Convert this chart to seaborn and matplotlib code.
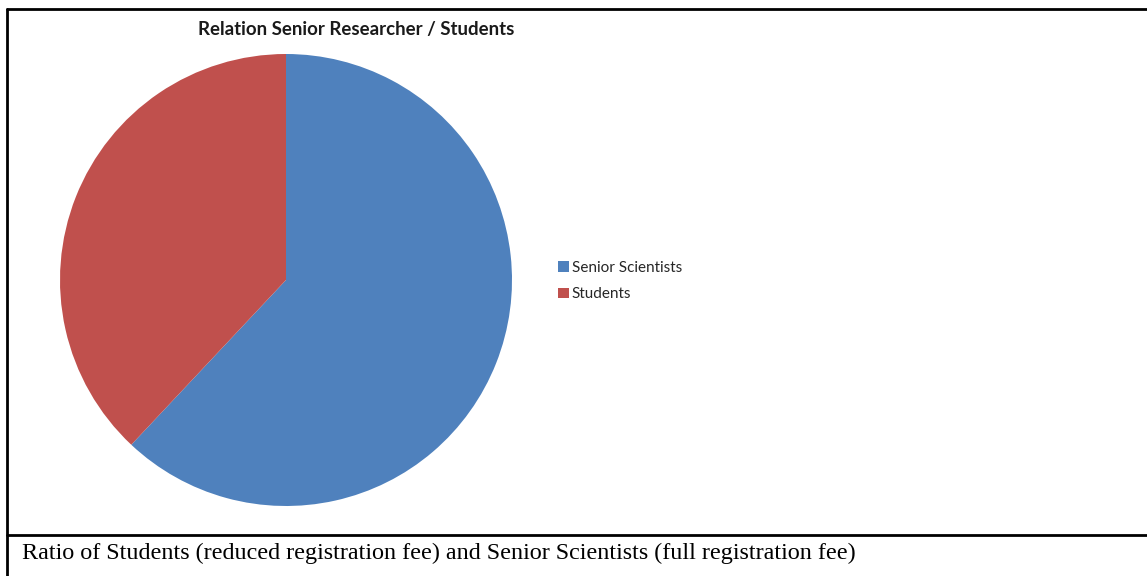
import numpy as np
import matplotlib
matplotlib.use("Agg")
import matplotlib.pyplot as plt
import seaborn as sns
from matplotlib.lines import Line2D
from matplotlib.patches import Patch

# --- Data ---
labels = ["Senior Scientists", "Students"]
shares = [62, 38]
colors = ["#4F81BD", "#C0504D"]
title = "Relation Senior Researcher / Students"
caption = "Ratio of Students (reduced registration fee) and Senior Scientists (full registration fee)"

sns.set_theme(style="white")
plt.rcParams["font.family"] = ["Lato", "DejaVu Sans"]

W, H = 1147, 576
fig = plt.figure(figsize=(W / 100, H / 100), dpi=100)

# --- Pie axes (center ~ (286, 280) px, radius ~ 226 px) ---
cx, cy, r = 286, 280, 226
ax = fig.add_axes([(cx - r) / W, (H - cy - r) / H, 2 * r / W, 2 * r / H])
wedges, _ = ax.pie(shares, colors=sns.color_palette(colors), startangle=90,
                   counterclock=False, radius=1.0,
                   wedgeprops=dict(linewidth=0, edgecolor="none"))
ax.set_xlim(-1, 1)
ax.set_ylim(-1, 1)
ax.set_aspect("equal")
ax.axis("off")

# --- Title ---
fig.text(356 / W, 1 - 29 / H, title, ha="center", va="center",
         fontsize=13.4, fontweight="bold", color="#1a1a1a")

# --- Legend ---
handles = [Patch(facecolor=c, edgecolor="none") for c in colors]
fig.legend(handles, labels, loc="upper left", bbox_to_anchor=(558 / W, 1 - 261 / H),
           frameon=False, fontsize=11, handlelength=0.7, handleheight=0.7,
           handletextpad=0.2, labelspacing=0.8, borderaxespad=0, borderpad=0)

# --- Table borders ---
lw = 2.0
fig.add_artist(Line2D([7 / W, 1], [1 - 8.5 / H] * 2, color="black", lw=lw))
fig.add_artist(Line2D([7 / W, 1], [1 - 535 / H] * 2, color="black", lw=lw))
fig.add_artist(Line2D([7 / W] * 2, [0, 1 - 8.5 / H], color="black", lw=lw))

# --- Caption ---
fig.text(22 / W, 1 - 553 / H, caption, ha="left", va="center",
         fontsize=17.4, family=["Liberation Serif"], color="black")

fig.savefig("out.png", dpi=100, facecolor="white")
